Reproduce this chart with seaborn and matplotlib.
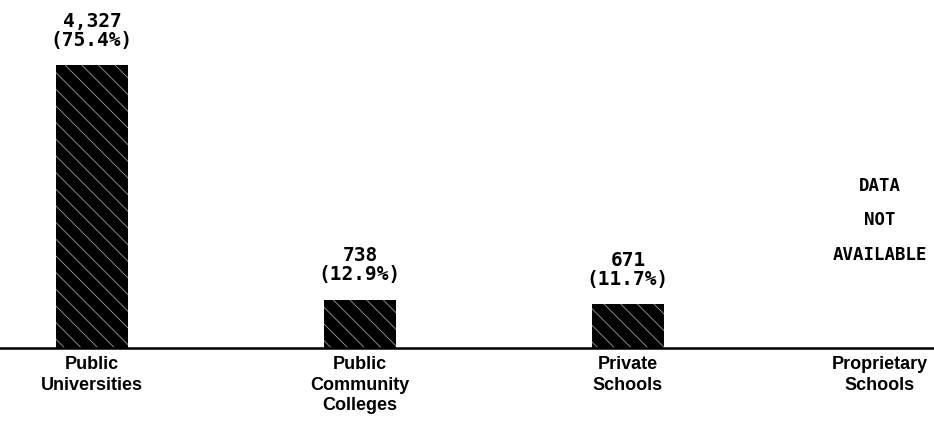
import numpy as np
import pandas as pd
import matplotlib
matplotlib.use("Agg")
import matplotlib.pyplot as plt
import seaborn as sns

# data
categories = ["Public\nUniversities", "Public\nCommunity\nColleges",
              "Private\nSchools", "Proprietary\nSchools"]
counts = [4327, 738, 671, np.nan]
percents = [75.4, 12.9, 11.7, np.nan]
missing_note = "DATA\nNOT\nAVAILABLE"

df = pd.DataFrame({"sector": categories, "count": counts, "pct": percents})

sns.set_theme(style="white")
plt.rcParams["font.family"] = ["Liberation Sans", "DejaVu Sans"]
plt.rcParams["text.color"] = "black"
plt.rcParams["hatch.linewidth"] = 0.6

fig = plt.figure(figsize=(9.34, 4.29), dpi=100)
ax = fig.add_axes([0.0, 81 / 429, 1.0, 348 / 429])

sns.barplot(data=df, x="sector", y="count", order=categories, color="black",
            width=0.27, ax=ax, errorbar=None)

for bar in ax.patches:
    bar.set_facecolor("black")
    bar.set_edgecolor("#9a9a9a")
    bar.set_linewidth(0)
    bar.set_hatch("\\\\")

ax.set_xlim(-92 / 268, (934 - 92) / 268)
ax.set_ylim(0, 348 / (283 / 4327))

# value labels above bars
for i, row in df.iterrows():
    if np.isnan(row["count"]):
        ax.text(i - 0.06, 1950, missing_note, ha="center", va="center",
                fontsize=12.5, fontweight="bold", family="DejaVu Sans Mono",
                linespacing=2.15, color="black")
        continue
    ax.annotate(f"{int(row['count']):,}\n({row['pct']:.1f}%)",
                xy=(i, row["count"]), xytext=(0, 11), textcoords="offset points",
                ha="center", va="bottom", fontsize=14, fontweight="bold",
                family="DejaVu Sans Mono", linespacing=1.0, color="black")

# category labels under the baseline
ax.set_xticks([])
ax.set_yticks([])
for i, lab in enumerate(categories):
    ax.annotate(lab, xy=(i - (0.06 if i == 3 else 0), 0), xytext=(0, -6),
                textcoords="offset points", ha="center", va="top",
                fontsize=13, fontweight="bold", linespacing=1.25, color="black")

ax.set_xlabel("")
ax.set_ylabel("")
for s in ["top", "left", "right"]:
    ax.spines[s].set_visible(False)
ax.spines["bottom"].set_linewidth(1.8)
ax.spines["bottom"].set_color("black")

fig.savefig("out.png", dpi=100)
